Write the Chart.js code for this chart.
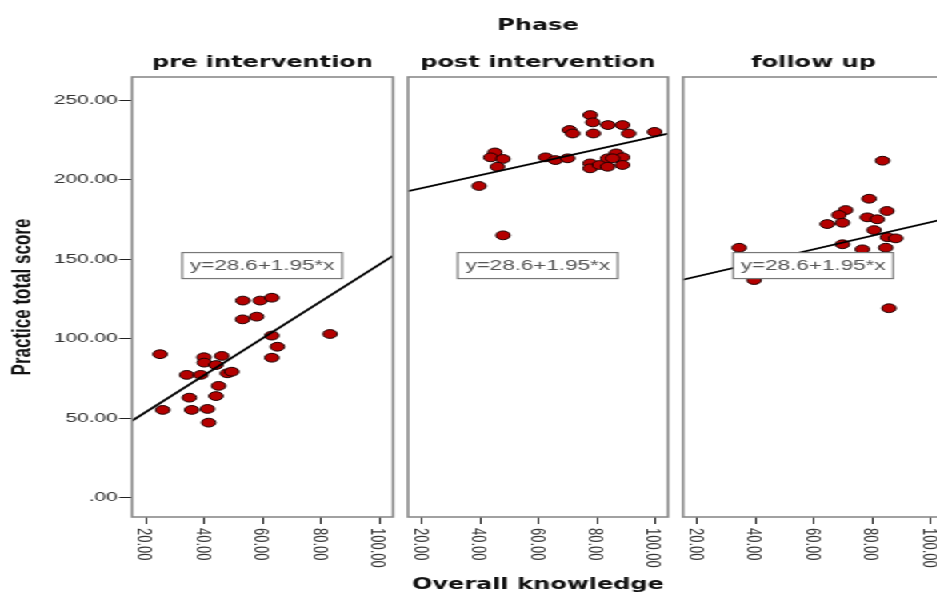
<!DOCTYPE html>
<html>
<head>
<meta charset="utf-8">
<script src="https://cdn.jsdelivr.net/npm/chart.js@4.4.1/dist/chart.umd.min.js"></script>
<style>
  html, body { margin: 0; padding: 0; background: #fff; overflow: hidden; width: 937px; height: 596px; }
  /* the source picture is stretched sideways, so draw narrow and stretch */
  #wrap { position: absolute; left: 0; top: 0; width: 600px; height: 596px; transform: scaleX(1.6); transform-origin: 0 0; }
  #wrap canvas { position: absolute; left: 0; top: 0; }
</style>
</head>
<body>
<div id="wrap">
  <canvas id="pre" width="600" height="596"></canvas>
  <canvas id="post" width="600" height="596"></canvas>
  <canvas id="follow" width="600" height="596"></canvas>
</div>
<script>
const phases = ['pre intervention', 'post intervention', 'follow up'];
const xTicks = [20, 40, 60, 80, 100];
const yTicks = [0, 50, 100, 150, 200, 250];

const preX = [24.8, 25.7, 33.9, 34.8, 35.6, 39.8, 39.9, 38.7, 41.0, 41.4, 43.9, 44.8, 43.9, 45.9, 47.8, 49.3, 53.1, 53.0, 59.0, 57.8, 63.0, 63.0, 64.9, 63.0, 82.9];
const preY = [90.3, 55.3, 77.3, 63.0, 55.3, 88.4, 85.0, 77.3, 55.9, 47.3, 83.5, 70.4, 64.0, 89.2, 78.3, 79.3, 124.0, 112.2, 124.0, 113.9, 125.8, 102.0, 95.0, 88.1, 103.0];

const postX = [45.0, 43.6, 47.8, 45.9, 39.6, 47.8, 62.4, 65.8, 70.0, 70.6, 71.7, 77.7, 78.6, 78.8, 83.8, 88.8, 90.9, 99.8, 77.7, 77.7, 80.9, 83.7, 83.7, 86.6, 88.8, 88.8, 85.4];
const postY = [217.1, 214.0, 213.0, 208.1, 196.0, 165.0, 214.0, 212.3, 213.4, 231.2, 229.0, 240.6, 236.0, 229.0, 234.3, 234.3, 229.0, 230.0, 210.2, 207.1, 209.2, 213.4, 208.1, 216.5, 214.0, 209.2, 213.4];

const followX = [83.4, 78.8, 70.8, 68.5, 69.7, 64.5, 78.2, 81.6, 84.9, 80.5, 85.1, 87.9, 69.7, 76.5, 84.5, 34.4, 39.5, 85.6];
const followY = [211.9, 188.0, 180.9, 177.8, 172.9, 172.1, 176.3, 175.1, 180.3, 168.3, 163.8, 163.1, 159.4, 156.2, 157.2, 157.2, 136.9, 119.2];

// fit line of each panel, and the label SPSS prints on all of them
const fitIntercept = [30.8, 186.6, 130.6];
const fitSlope = [1.162, 0.405, 0.427];
const fitLabel = 'y=28.6+1.95*x';
const fitLabelAt = [59.7, 146];

const xRange = [15.2, 104.4];
const yRange = [-12, 264.5];

const fmt = v => v === 0 ? '.00' : v.toFixed(2);

const decor = {
  id: 'decor',
  afterDraw(chart, args, opts) {
    const { ctx, chartArea: a, scales: { x, y } } = chart;
    ctx.save();
    ctx.strokeStyle = '#8a8a8a';
    ctx.lineWidth = 1.6;
    ctx.strokeRect(a.left, a.top, a.right - a.left, a.bottom - a.top);

    // x tick labels, turned to read top down
    ctx.fillStyle = '#333';
    ctx.font = '13px "Liberation Sans"';
    ctx.textAlign = 'left';
    ctx.textBaseline = 'middle';
    x.ticks.forEach(t => {
      ctx.save();
      ctx.translate(x.getPixelForValue(t.value) - 1.5, a.bottom + 11);
      ctx.rotate(Math.PI / 2);
      ctx.fillText(fmt(t.value), 0, 0);
      ctx.restore();
    });

    // equation box
    const bx = x.getPixelForValue(fitLabelAt[0]);
    const by = y.getPixelForValue(fitLabelAt[1]);
    ctx.fillStyle = '#fff';
    ctx.fillRect(bx - 50, by - 13, 100, 26);
    ctx.strokeStyle = '#777';
    ctx.lineWidth = 1.2;
    ctx.strokeRect(bx - 50, by - 13, 100, 26);
    ctx.fillStyle = '#555';
    ctx.font = '14px "Liberation Sans"';
    ctx.textAlign = 'center';
    ctx.fillText(fitLabel, bx, by + 1);

    // panel title
    const cx = (a.left + a.right) / 2;
    ctx.fillStyle = '#111';
    ctx.font = 'bold 15px "DejaVu Sans"';
    ctx.textBaseline = 'alphabetic';
    ctx.fillText(opts.title, cx, 67);
    if (opts.header) {
      ctx.fillText('Phase', cx, 30);
      ctx.fillText('Overall knowledge', cx, 589);
    }
    ctx.restore();
  }
};

const pads = [[0, 354.4], [255, 182.5], [426.9, 10]];

function makePanel(id, i, xs, ys) {
  const pts = xs.map((v, k) => ({ x: v, y: ys[k] }));
  const line = xRange.map(v => ({ x: v, y: fitIntercept[i] + fitSlope[i] * v }));
  new Chart(document.getElementById(id), {
    type: 'scatter',
    data: {
      datasets: [
        { data: line, type: 'line', borderColor: '#000', borderWidth: 1.8, pointRadius: 0, fill: false },
        { data: pts, backgroundColor: '#b50000', borderColor: '#1a0000', borderWidth: 1, pointRadius: 4.4 }
      ]
    },
    options: {
      responsive: false,
      animation: false,
      events: [],
      layout: { padding: { left: pads[i][0], right: pads[i][1], top: 77, bottom: 0 } },
      plugins: {
        legend: { display: false },
        tooltip: { enabled: false },
        decor: { title: phases[i], header: i === 1 }
      },
      scales: {
        x: {
          type: 'linear', min: xRange[0], max: xRange[1],
          afterBuildTicks: s => { s.ticks = xTicks.map(v => ({ value: v })); },
          afterFit: s => { s.height = 79; },
          grid: { drawOnChartArea: false, drawTicks: true, tickLength: 7, tickColor: '#222' },
          border: { display: false },
          ticks: { display: false }
        },
        y: {
          display: i === 0,
          min: yRange[0], max: yRange[1],
          afterBuildTicks: s => { s.ticks = yTicks.map(v => ({ value: v })); },
          afterFit: s => { s.width = i === 0 ? 82.5 : 0; },
          grid: { drawOnChartArea: false, drawTicks: true, tickLength: 8, tickColor: '#222' },
          border: { display: false },
          ticks: { padding: 1, color: '#333', font: { family: 'Liberation Sans', size: 13 }, callback: v => fmt(v) },
          title: { display: true, text: 'Practice total score', color: '#111', font: { family: 'Liberation Sans', size: 17, weight: 'bold' }, padding: { top: 4, bottom: 0 } }
        }
      }
    },
    plugins: [decor]
  });
}

makePanel('pre', 0, preX, preY);
makePanel('post', 1, postX, postY);
makePanel('follow', 2, followX, followY);
</script>
</body>
</html>
